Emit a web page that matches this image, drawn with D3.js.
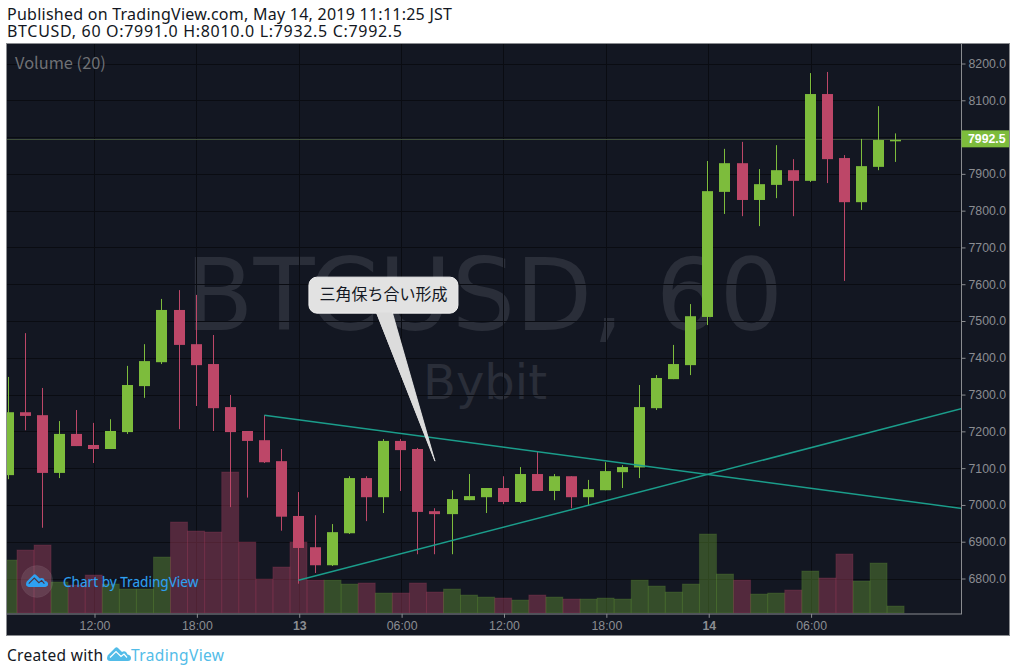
<!DOCTYPE html>
<html>
<head>
<meta charset="utf-8">
<script src="https://cdn.jsdelivr.net/npm/d3@7"></script>
<style>
  html, body { margin: 0; padding: 0; background: #fff; }
  svg { display: block; }
  .head { font-family: "Noto Sans", sans-serif; fill: #131722; }
  .ax text { font-family: "Liberation Sans", Arial, sans-serif; font-size: 12.3px; fill: #8b8d92; }
</style>
</head>
<body>
<div id="chart"></div>
<script>
// hourly candles, May 12 07:00 onward (index = hours)
const opens = [7081,7252,7244,7087,7193,7163,7152,7198,7323,7388,7530,7437,7383,7266,7201,7176,7119,6970,6885,6836,6923,7073,7021,7174,7152,6983,6975,7013,7021,7046,7008,7084,7038,7078,7021,7040,7089,7102,7263,7342,7380,7511,7851,7929,7829,7870,7910,7881,8117,7943,7823,7919,7991]
const highs = [7348,7467,7318,7228,7258,7223,7233,7378,7437,7560,7584,7571,7462,7299,7201,7244,7152,7035,6972,6948,7078,7078,7179,7179,7155,6991,7040,7084,7046,7078,7103,7144,7084,7078,7068,7116,7108,7326,7353,7435,7546,7935,7968,7987,7913,7978,7940,8174,8177,7951,7995,8084,8010]
const lows = [7070,7203,6938,7073,7160,7114,7152,7193,7291,7383,7206,7269,7201,6994,7020,7114,6930,6786,6815,6834,6921,6956,6978,7038,6866,6866,6866,7013,6978,7002,7005,7038,7013,6991,7000,7040,7046,7073,7258,7342,7353,7489,7791,7785,7758,7834,7785,7878,7875,7609,7802,7910,7932.5]
const closes = [7252,7242,7087,7193,7160,7152,7201,7326,7391,7530,7435,7380,7263,7198,7174,7116,6968,6883,6836,6926,7073,7021,7174,7149,6981,6975,7016,7024,7046,7008,7084,7038,7078,7021,7043,7092,7103,7266,7345,7383,7513,7853,7929,7829,7872,7910,7881,8117,7940,7823,7921,7992,7992.5]
const volumes = [53,63,68,31,28,38,29,24,24,56,91,82,81,141,71,34,46,71,33,33,29,30,20,20,30,21,24,18,16,15,13,18,16,14,14,15,14,33,27,21,29,79,39,33,19,20,23,42,35,59,32,50,7]

const priceTicks = [8200,8100,8000,7900,7800,7700,7600,7500,7400,7300,7200,7100,7000,6900,6800]
const timeTicks = [5,11,17,23,29,35,41,47]
const timeLabels = ["12:00","18:00","13","06:00","12:00","18:00","14","06:00"]
const boldLabels = ["13","14"]

const lastPrice = 7992.5
const trendDown = [[15,7244],[55.9,6990]]
const trendUp = [[17,6795],[55.9,7262]]
const calloutTip = [25,7119]
const calloutText = "三角保ち合い形成"

const GREEN = "#7dbc3c", RED = "#bd4768"

const svg = d3.select("#chart").append("svg").attr("width",1016).attr("height",672)

const pane = {left:7, right:961.5, top:44, bottom:613.5}

const x = d3.scaleLinear().domain([0,52]).range([8.4,895.6])
const y = d3.scaleLinear().domain([6800,8200]).range([578.5,63.5])
const vol = d3.scaleLinear().domain([0,100]).range([613,513])

// frame
svg.append("rect").attr("x",6.5).attr("y",43.5).attr("width",1003).attr("height",592)
  .attr("fill","#131722").attr("stroke","#8a8c90")

svg.append("clipPath").attr("id","pane").append("rect")
  .attr("x",pane.left).attr("y",pane.top)
  .attr("width",pane.right-pane.left).attr("height",pane.bottom-pane.top)

const plot = svg.append("g").attr("clip-path","url(#pane)")

// watermark
const wm = plot.append("g").attr("fill","#2a2e39").attr("font-family","'DejaVu Sans', sans-serif")
wm.append("text").attr("x",484).attr("y",330).attr("text-anchor","middle").attr("font-size",100).text("BTCUSD, 60")
wm.append("text").attr("x",485).attr("y",399).attr("text-anchor","middle").attr("font-size",48).text("Bybit")

// grid
plot.append("g").selectAll("line").data(priceTicks).join("line")
  .attr("x1",pane.left).attr("x2",pane.right)
  .attr("y1",d => Math.round(y(d))+0.5).attr("y2",d => Math.round(y(d))+0.5)
  .attr("stroke","#0a0c12")
plot.append("g").selectAll("line").data(timeTicks).join("line")
  .attr("y1",pane.top).attr("y2",pane.bottom)
  .attr("x1",d => Math.floor(x(d)+0.8)+0.5).attr("x2",d => Math.floor(x(d)+0.8)+0.5)
  .attr("stroke","#0a0c12")

// volume
plot.append("g").selectAll("rect").data(volumes).join("rect")
  .attr("x",(d,i) => x(i)-8.5).attr("width",17.05)
  .attr("y",d => vol(d)).attr("height",d => vol(0)-vol(d))
  .attr("fill",(d,i) => closes[i] >= opens[i] ? "rgba(125,188,60,0.33)" : "rgba(189,71,104,0.38)")
  .attr("stroke",(d,i) => closes[i] >= opens[i] ? "rgba(125,188,60,0.16)" : "rgba(189,71,104,0.2)")

// last price line
plot.append("line").attr("x1",pane.left).attr("x2",pane.right)
  .attr("y1",Math.round(y(lastPrice))-0.5).attr("y2",Math.round(y(lastPrice))-0.5)
  .attr("stroke","#3f4f3a")

// candles
const candles = plot.append("g").selectAll("g").data(opens).join("g")
  .attr("fill",(d,i) => closes[i] >= opens[i] ? GREEN : RED)
candles.append("rect")
  .attr("x",(d,i) => Math.floor(x(i))).attr("width",1)
  .attr("y",(d,i) => y(highs[i])).attr("height",(d,i) => y(lows[i])-y(highs[i]))
candles.append("rect")
  .attr("x",(d,i) => Math.floor(x(i))-5).attr("width",11)
  .attr("y",(d,i) => y(Math.max(opens[i],closes[i])))
  .attr("height",(d,i) => Math.max(1.5,Math.abs(y(opens[i])-y(closes[i]))))

// trend lines
const line = d3.line().x(d => x(d[0])).y(d => y(d[1]))
plot.selectAll("path.trend").data([trendDown,trendUp]).join("path")
  .attr("class","trend").attr("d",line).attr("fill","none")
  .attr("stroke","#1b9d8b").attr("stroke-width",1.5)

// axes
const yAxis = d3.axisRight(y).tickValues(priceTicks).tickSize(4).tickPadding(3).tickFormat(d3.format(".1f"))
const yG = svg.append("g").attr("class","ax").attr("transform",`translate(${pane.right},0)`).call(yAxis)
const xAxis = d3.axisBottom(x).tickValues(timeTicks).tickSize(4).tickPadding(3)
  .tickFormat((d,i) => timeLabels[i])
const xG = svg.append("g").attr("class","ax").attr("transform",`translate(0.8,${pane.bottom+0.3})`).call(xAxis)
xG.selectAll("text").attr("font-weight",(d,i) => boldLabels.includes(timeLabels[i]) ? "bold" : null)
svg.selectAll(".ax .domain").remove()
svg.selectAll(".ax .tick line").attr("stroke","#8a8c90")
svg.append("line").attr("x1",pane.left).attr("x2",pane.right+0.5).attr("y1",614).attr("y2",614).attr("stroke","#8a8c90").attr("stroke-width",1)
svg.append("line").attr("x1",pane.right).attr("x2",pane.right).attr("y1",44).attr("y2",614).attr("stroke","#8a8c90").attr("stroke-width",1)

// last price label
const ly = y(lastPrice)
svg.append("rect").attr("x",pane.right).attr("y",ly-9.5).attr("width",47.5).attr("height",17).attr("fill",GREEN)
svg.append("text").attr("x",968).attr("y",ly+3.5)
  .attr("font-family","'Liberation Sans', Arial, sans-serif").attr("font-size",12.3).attr("font-weight","bold")
  .attr("fill","#fff").text(d3.format(".1f")(lastPrice))

// callout
const tipX = x(calloutTip[0]), tipY = y(calloutTip[1])
const callout = svg.append("g")
callout.append("path")
  .attr("d",`M${tipX} ${tipY} L${tipX-43} ${tipY-150} L${tipX-59} ${tipY-150} Z`)
  .attr("fill","#dcdcdc").attr("stroke","#e8e8e8").attr("stroke-width",0.8)
callout.append("rect").attr("x",tipX-126).attr("y",tipY-184).attr("width",149).attr("height",36).attr("rx",8)
  .attr("fill","#e2e2e2").attr("stroke","#f2f2f2")
callout.append("path")
  .attr("d",`M${tipX} ${tipY} L${tipX-43} ${tipY-149} L${tipX-59} ${tipY-149} Z`).attr("fill","#dcdcdc")
callout.append("text").attr("x",tipX-51.5).attr("y",tipY-161)
  .attr("text-anchor","middle").attr("font-family","'Noto Sans CJK JP', sans-serif").attr("font-size",16)
  .attr("fill","#131722").text(calloutText)

// logo cloud, 24 wide
function cloud(g, px, py, k, fill, cut) {
  const c = g.append("g").attr("transform",`translate(${px},${py}) scale(${k})`)
  c.append("path").attr("fill",fill)
    .attr("d","M0 11 Q0 8 2.5 6.5 L8 1 Q9.5 -0.3 11 1 L15 5 Q17 3.5 19 5 Q20 6 20.5 7.5 Q24 8 24 11 Q24 14 21 14 L3 14 Q0 14 0 11 Z")
  c.append("path").attr("fill","none").attr("stroke",cut).attr("stroke-width",1.2)
    .attr("d","M3 10.5 L9 4.5 L14 9.5 L17 7 L20 10.5")
}

// chart by tradingview badge
svg.append("circle").attr("cx",37).attr("cy",581.5).attr("r",16)
  .attr("fill","rgba(255,255,255,0.1)").attr("stroke","rgba(255,255,255,0.04)")
cloud(svg,26,574,0.92,"#2ea0f2","#4a3340")
svg.append("text").attr("x",63).attr("y",587)
  .attr("font-family","'Noto Sans', sans-serif").attr("font-size",13.6)
  .attr("fill","#2ea0f2").attr("stroke","rgba(46,160,242,0.35)").attr("stroke-width",0.3)
  .text("Chart by TradingView")

// pane legend
svg.append("text").attr("x",15).attr("y",68.5)
  .attr("font-family","'Noto Sans CJK JP', sans-serif").attr("font-size",16.4).attr("fill","#6f7175")
  .text("Volume (20)")

// header and footer
svg.append("text").attr("class","head").attr("x",7).attr("y",20).attr("font-size",16)
  .attr("textLength",445).text("Published on TradingView.com, May 14, 2019 11:11:25 JST")
svg.append("text").attr("class","head").attr("x",7).attr("y",37).attr("font-size",16)
  .attr("textLength",395).text("BTCUSD, 60 O:7991.0 H:8010.0 L:7932.5 C:7992.5")
svg.append("text").attr("class","head").attr("x",7).attr("y",661).attr("font-size",15.5)
  .attr("textLength",96).text("Created with")
cloud(svg,107,647,1,"#52bce8","#fff")
svg.append("text").attr("x",131).attr("y",661)
  .attr("font-family","'Noto Sans', sans-serif").attr("font-size",15.5).attr("fill","#52bce8")
  .attr("textLength",93).text("TradingView")
</script>
</body>
</html>
